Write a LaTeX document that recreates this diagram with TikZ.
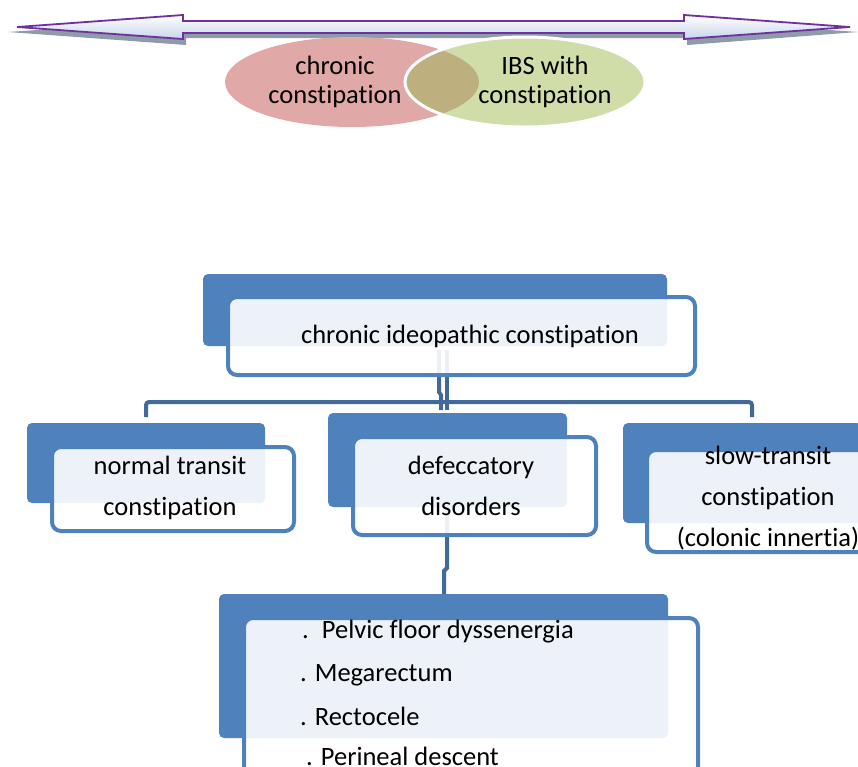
\documentclass[tikz,border=0pt]{standalone}
\usepackage{fontspec}
\setmainfont{Carlito}[Ligatures=CommonOff]
\usetikzlibrary{shapes.geometric}
\definecolor{accent}{HTML}{4F81BD}
\definecolor{conn}{HTML}{41699A}
\definecolor{purp}{HTML}{7030A0}
\definecolor{shadowg}{HTML}{8E9BA8}
\definecolor{arrowblue}{HTML}{C8D5EA}
\definecolor{redell}{HTML}{E0A8A6}
\definecolor{greenell}{HTML}{D0DDA9}
\definecolor{overlapc}{HTML}{BDB07E}
\begin{document}
\begin{tikzpicture}[x=1pt,y=-1pt,
  backbox/.style={fill=accent, draw=none, rounded corners=5pt, inner sep=0pt},
  frontbox/.style={draw=accent, line width=4pt, fill=white, fill opacity=0.9, rounded corners=9pt, inner sep=0pt},
  conline/.style={draw=conn, line width=4pt},
  ellfont/.style={font=\fontsize{26.5}{29}\selectfont, align=center, inner sep=0pt},
  boxfont/.style={font=\fontsize{26.5}{41}\selectfont, align=center, inner sep=0pt},
  listfont/.style={font=\fontsize{26.5}{29}\selectfont, anchor=west, inner sep=0pt}]
\useasboundingbox (0,0) rectangle (858,766);
\clip (0,0) rectangle (858,766);

% double arrow with shadow
\fill[shadowg] (8,32) -- (186,20) -- (186,27) -- (687,27) -- (687,20) -- (858,32) -- (687,45) -- (687,38) -- (186,38) -- (186,45) -- cycle;
\path[draw=purp, line width=1.8pt, top color=white, bottom color=arrowblue]
  (17,27) -- (183,15) -- (183,21) -- (684,21) -- (684,15) -- (850,27) -- (684,39) -- (684,33) -- (183,33) -- (183,39) -- cycle;

% Venn ellipses
\node[ellipse, fill=redell, minimum width=254pt, minimum height=90pt, inner sep=0pt] (redE) at (352,82) {};
\node[ellipse, fill=greenell, minimum width=240pt, minimum height=90pt, inner sep=0pt] (greenE) at (525,82) {};
\begin{scope}
  \clip (352,82) ellipse [x radius=127pt, y radius=45pt];
  \fill[overlapc] (525,82) ellipse [x radius=120pt, y radius=45pt];
\end{scope}
\draw[white, line width=3pt] (525,82) ellipse [x radius=120pt, y radius=45pt];
\node[ellfont] (redT) at (335,82) {chronic\\constipation};
\node[ellfont] (greenT) at (545,82) {IBS with\\constipation};

% connectors (under boxes)
\coordinate (busL) at (146,417);
\coordinate (busR) at (752,417);
\coordinate (busM) at (447,402);
\draw[conline] (447,350) -- (busM) -- (447,410);
\draw[conline] (439,350) -- (439,392) -- (441,395) -- (441,410);
\draw[conline, rounded corners=3pt] (busL) -- (146,402) -- (752,402) -- (busR);
\coordinate (dJ) at (444,594);
\draw[conline] (447,505) -- (447,568) -- (444,571) -- (dJ);

% top box
\node[backbox, minimum width=464pt, minimum height=72pt] (topB) at (435,310) {};
\node[frontbox, minimum width=467pt, minimum height=78pt] (topF) at (461.5,336) {};
\node[boxfont] (topT) at (470,336) {chronic ideopathic constipation};

% normal transit
\node[backbox, minimum width=238pt, minimum height=80pt] (normB) at (146,463) {};
\node[frontbox, minimum width=242pt, minimum height=84pt] (normF) at (173,489) {};
\node[boxfont] (normT) at (170,488) {normal transit\\constipation};

% defecatory
\node[backbox, minimum width=239pt, minimum height=94pt] (defB) at (447.5,460) {};
\node[frontbox, minimum width=243pt, minimum height=98pt] (defF) at (474.5,486) {};
\node[boxfont] (defT) at (471,486) {defeccatory\\disorders};

% slow transit
\node[backbox, minimum width=239pt, minimum height=100pt] (slowB) at (742.5,473) {};
\node[frontbox, minimum width=243pt, minimum height=102pt] (slowF) at (768.5,501) {};
\node[boxfont] (slowT) at (768,498) {slow-transit\\constipation\\(colonic innertia)};

% bottom box
\node[backbox, minimum width=449pt, minimum height=144pt] (botB) at (443.5,666) {};
\node[frontbox, minimum width=454pt, minimum height=172pt] (botF) at (471,704) {};
\node[listfont] (l1) at (302,632) {.\hspace{5pt} Pelvic floor dyssenergia};
\node[listfont] (l2) at (300,675) {. Megarectum};
\node[listfont] (l3) at (300,716) {. Rectocele};
\node[listfont] (l4) at (306,756) {. Perineal descent};
\end{tikzpicture}
\end{document}
